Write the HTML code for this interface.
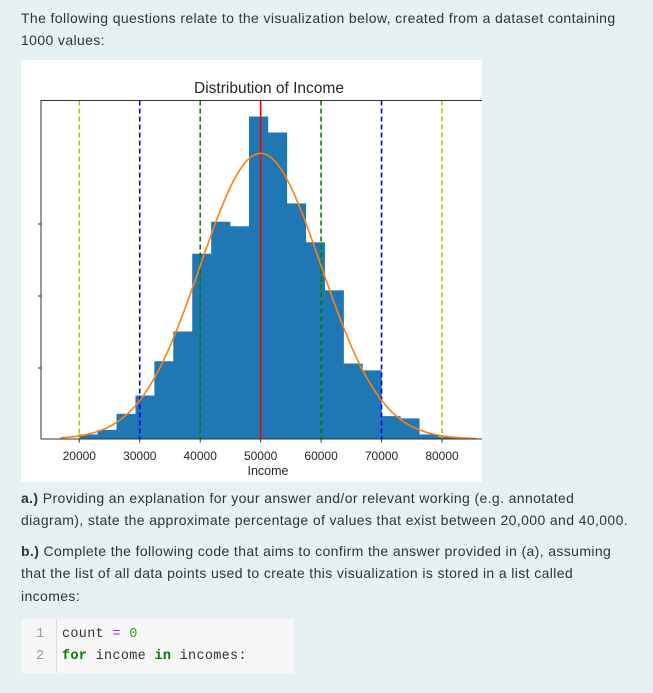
<!DOCTYPE html>
<html><head><meta charset="utf-8">
<style>
body{margin:0;width:653px;height:693px;background:#e7f1f4;font-family:"Liberation Sans",sans-serif;color:#333;position:relative;overflow:hidden}
.t{position:absolute;left:21px;font-size:14px;letter-spacing:0.38px;white-space:nowrap}
#chart{position:absolute;left:21px;top:60px;width:461px;height:422px;background:#fff}
.code{position:absolute;left:21px;top:619px;width:273px;height:54px;background:#f7f7f7;font-family:"Liberation Mono",monospace;font-size:13.5px}
.ln{position:absolute;left:15px;color:#999}
.cl{position:absolute;left:41px;color:#333;letter-spacing:0.3px}
.gut{position:absolute;left:35px;top:0;width:1px;height:54px;background:#ddd}
</style></head><body>
<div class="t" style="top:10px">The following questions relate to the visualization below, created from a dataset containing</div>
<div class="t" style="top:32px">1000 values:</div>
<svg id="chart" viewBox="21 60 461 422" xmlns="http://www.w3.org/2000/svg">
<g id="g"></g>
</svg>
<div class="t" style="top:490px"><b>a.)</b> Providing an explanation for your answer and/or relevant working (e.g. annotated</div>
<div class="t" style="top:512px">diagram), state the approximate percentage of values that exist between 20,000 and 40,000.</div>
<div class="t" style="top:543px"><b>b.)</b> Complete the following code that aims to confirm the answer provided in (a), assuming</div>
<div class="t" style="top:565px">that the list of all data points used to create this visualization is stored in a list called</div>
<div class="t" style="top:588px">incomes:</div>
<div class="code">
<div class="gut"></div>
<div class="ln" style="top:8px">1</div><div class="cl" style="top:8px">count <span style="color:#a020f0">=</span> <span style="color:#2a9a2a">0</span></div>
<div class="ln" style="top:30px">2</div><div class="cl" style="top:30px"><b style="color:#008000">for</b> income <b style="color:#008000">in</b> incomes:</div>
</div>
<script>
const counts=[2,4,11,19,34,47,81,95,93,141,134,103,86,65,33,30,10,9,2,1];
const binStart=19900;
const binWidth=3130;
const xTicks=[20000,30000,40000,50000,60000,70000,80000];
const refLines=[20000,30000,40000,50000,60000,70000,80000];
const refColors=['#bfbf00','#0000ff','#008000','#ff0000','#008000','#0000ff','#bfbf00'];
const mean=50000, sd=10000, total=1000;
const ns='http://www.w3.org/2000/svg';
const g=document.getElementById('g');
const L=41,R=490,T=100.5,B=439;
const yMax=148;
const x=v=>79.3+(v-20000)*0.006045;
const y=c=>B-(c/yMax)*(B-T);
function mk(tag,a){const e=document.createElementNS(ns,tag);for(const k in a)e.setAttribute(k,a[k]);g.appendChild(e);return e;}
counts.forEach((c,i)=>{
 const r=mk('rect',{x:x(binStart+i*binWidth),y:y(c),width:x(binStart+(i+1)*binWidth)-x(binStart+i*binWidth)+0.3,height:B-y(c),fill:'#1f77b4'});
 
 
});
refLines.forEach((v,i)=>{
 const l=mk('line',{x1:x(v),x2:x(v),y1:T,y2:B,stroke:refColors[i],'stroke-width':1.6});
 if(v!==mean)l.setAttribute('stroke-dasharray','5,3');
 
 
});
let d='';
for(let v=16900;v<=85850;v+=250){
 const c=total*binWidth/(sd*Math.sqrt(2*Math.PI))*Math.exp(-0.5*((v-mean)/sd)**2);
 d+=(d?'L':'M')+x(v).toFixed(1)+','+y(c).toFixed(1);
}
const p=mk('path',{d:d,fill:'none',stroke:'#ff7f0e','stroke-width':1.6});


const fr=mk('rect',{x:L,y:T,width:R-L,height:B-T,fill:'none',stroke:'#333','stroke-width':1});


[224,296,368].forEach(yy=>mk('line',{x1:L-3,x2:L,y1:yy,y2:yy,stroke:'#333'}));
xTicks.forEach(v=>{
 mk('line',{x1:x(v),x2:x(v),y1:B,y2:B+3.5,stroke:'#333'});
 const t=mk('text',{x:x(v),y:B+21,'text-anchor':'middle','font-size':12,fill:'#262626','font-family':'Liberation Sans, sans-serif'});
 t.textContent=v;
 
 
});
const xt=mk('text',{x:268,y:475,'text-anchor':'middle','font-size':12.5,fill:'#262626','font-family':'Liberation Sans, sans-serif'});
xt.textContent='Income';


const tt=mk('text',{x:269,y:93,'text-anchor':'middle','font-size':15.5,fill:'#262626','font-family':'Liberation Sans, sans-serif'});
tt.textContent='Distribution of Income';


</script>
</body></html>
